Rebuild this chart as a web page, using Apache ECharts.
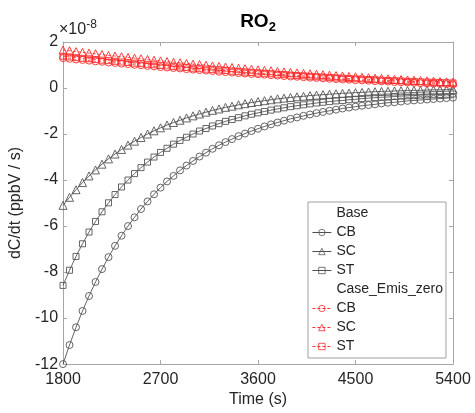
<!DOCTYPE html>
<html>
<head>
<meta charset="utf-8">
<script src="https://cdn.jsdelivr.net/npm/echarts@6/dist/echarts.min.js"></script>
<style>html,body{margin:0;padding:0;background:#fff;}#c{width:475px;height:413px;}</style>
</head>
<body>
<div id="c"></div>
<script>
// values in units of 1e-8 ppbV/s
const time = [1800,1860,1920,1980,2040,2100,2160,2220,2280,2340,2400,2460,2520,2580,2640,2700,2760,2820,2880,2940,3000,3060,3120,3180,3240,3300,3360,3420,3480,3540,3600,3660,3720,3780,3840,3900,3960,4020,4080,4140,4200,4260,4320,4380,4440,4500,4560,4620,4680,4740,4800,4860,4920,4980,5040,5100,5160,5220,5280,5340,5400];
const baseCB = [-12.00,-11.17,-10.40,-9.69,-9.04,-8.43,-7.87,-7.35,-6.86,-6.42,-6.00,-5.62,-5.26,-4.93,-4.62,-4.33,-4.06,-3.82,-3.58,-3.37,-3.17,-2.98,-2.81,-2.64,-2.49,-2.35,-2.22,-2.09,-1.98,-1.87,-1.77,-1.67,-1.58,-1.50,-1.42,-1.34,-1.28,-1.21,-1.15,-1.09,-1.04,-0.99,-0.94,-0.89,-0.85,-0.81,-0.77,-0.74,-0.71,-0.67,-0.64,-0.62,-0.59,-0.56,-0.54,-0.52,-0.50,-0.48,-0.46,-0.44,-0.42];
const baseSC = [-5.10,-4.75,-4.42,-4.11,-3.82,-3.56,-3.31,-3.08,-2.87,-2.67,-2.48,-2.31,-2.15,-2.00,-1.86,-1.73,-1.61,-1.50,-1.40,-1.30,-1.21,-1.13,-1.05,-0.97,-0.91,-0.84,-0.79,-0.73,-0.68,-0.63,-0.59,-0.55,-0.51,-0.47,-0.44,-0.41,-0.38,-0.36,-0.33,-0.31,-0.29,-0.27,-0.25,-0.23,-0.22,-0.20,-0.19,-0.17,-0.16,-0.15,-0.14,-0.13,-0.12,-0.11,-0.10,-0.10,-0.09,-0.08,-0.08,-0.07,-0.07];
const baseST = [-8.58,-7.92,-7.32,-6.77,-6.26,-5.80,-5.38,-4.99,-4.63,-4.30,-4.00,-3.72,-3.46,-3.22,-3.00,-2.80,-2.62,-2.44,-2.28,-2.14,-2.00,-1.87,-1.76,-1.65,-1.55,-1.45,-1.37,-1.29,-1.21,-1.14,-1.08,-1.02,-0.96,-0.91,-0.86,-0.81,-0.77,-0.73,-0.69,-0.65,-0.62,-0.59,-0.56,-0.54,-0.51,-0.49,-0.46,-0.44,-0.42,-0.40,-0.39,-0.37,-0.35,-0.34,-0.33,-0.31,-0.30,-0.29,-0.28,-0.27,-0.26];
const caseCB = [1.30,1.27,1.24,1.22,1.19,1.16,1.14,1.11,1.09,1.06,1.04,1.01,0.99,0.96,0.94,0.91,0.89,0.87,0.85,0.82,0.80,0.78,0.76,0.74,0.71,0.69,0.67,0.65,0.63,0.61,0.60,0.58,0.56,0.54,0.52,0.50,0.49,0.47,0.45,0.44,0.42,0.40,0.39,0.37,0.36,0.34,0.33,0.32,0.30,0.29,0.28,0.26,0.25,0.24,0.23,0.21,0.20,0.19,0.18,0.17,0.16];
const caseSC = [1.65,1.62,1.58,1.55,1.52,1.49,1.45,1.42,1.39,1.36,1.33,1.30,1.27,1.24,1.21,1.18,1.15,1.12,1.10,1.07,1.04,1.02,0.99,0.96,0.94,0.91,0.89,0.86,0.84,0.82,0.79,0.77,0.75,0.72,0.70,0.68,0.66,0.64,0.62,0.60,0.58,0.56,0.54,0.52,0.50,0.49,0.47,0.45,0.43,0.42,0.40,0.38,0.37,0.35,0.34,0.33,0.31,0.30,0.28,0.27,0.26];
const caseST = [1.38,1.35,1.32,1.29,1.27,1.24,1.21,1.19,1.16,1.13,1.11,1.08,1.06,1.03,1.01,0.98,0.96,0.93,0.91,0.89,0.86,0.84,0.82,0.80,0.78,0.76,0.73,0.71,0.69,0.67,0.65,0.64,0.62,0.60,0.58,0.56,0.54,0.53,0.51,0.49,0.48,0.46,0.44,0.43,0.41,0.40,0.39,0.37,0.36,0.34,0.33,0.32,0.31,0.29,0.28,0.27,0.26,0.25,0.24,0.23,0.22];
const xTicks = [1800, 5400, 900];
const yTicks = [-12, 2, 2];

const FONT = '"Liberation Sans", Arial, Helvetica, sans-serif';
const AX = '#a6a6a6';
const TXT = '#262626';
const zip = v => time.map((t, i) => [t, v[i]]);

function mk(name, values, symbol, size, stroke, lineColor, dashed) {
  return {
    name, type: 'line', data: zip(values), symbol, symbolSize: size, clip: false,
    itemStyle: { color: 'transparent', borderColor: stroke, borderWidth: 0.9 },
    lineStyle: { color: lineColor, width: 0.7, type: dashed ? [3, 2] : 'solid' },
    emphasis: { disabled: true }, animation: false, z: dashed ? 3 : 2
  };
}
const blkM = '#555', blkL = '#222', redM = '#ff2a2a', redL = '#ff0000';
const axisBase = (pos, showLabel) => ({
  type: 'value', position: pos, splitLine: { show: false },
  axisLine: { show: true, onZero: false, lineStyle: { color: AX, width: 1 } },
  axisTick: { show: true, inside: true, length: 4, lineStyle: { color: AX } },
  axisLabel: { show: showLabel, color: TXT, fontSize: 16, fontFamily: FONT }
});

const chart = echarts.init(document.getElementById('c'), null, { renderer: 'canvas' });
chart.setOption({
  animation: false,
  backgroundColor: '#fff',
  grid: { left: 58, right: 22, top: 42, bottom: 48, containLabel: false },
  title: {
    text: '{a|×10}{b|-8}', left: 59, top: 19, padding: 0,
    textStyle: { fontWeight: 'normal', rich: {
      a: { fontSize: 16, fontWeight: 'normal', color: TXT, fontFamily: FONT },
      b: { fontSize: 12, fontWeight: 'normal', color: TXT, fontFamily: FONT, padding: [0, 0, 9, 0] }
    } }
  },
  xAxis: [
    Object.assign(axisBase('bottom', true), {
      min: xTicks[0], max: xTicks[1], interval: xTicks[2],
      name: 'Time (s)', nameLocation: 'middle', nameGap: 27,
      nameTextStyle: { color: TXT, fontSize: 16, fontFamily: FONT },
      axisLabel: { show: true, color: TXT, fontSize: 16, fontFamily: FONT, margin: 7, formatter: v => String(v) }
    }),
    Object.assign(axisBase('top', false), {
      min: xTicks[0], max: xTicks[1], interval: xTicks[2],
      name: '{n|RO}{s|2}', nameLocation: 'middle', nameGap: 8,
      nameTextStyle: { rich: {
        n: { fontSize: 19, fontWeight: 'bold', color: '#000', fontFamily: FONT },
        s: { fontSize: 13, fontWeight: 'bold', color: '#000', fontFamily: FONT, padding: [11, 0, 0, 0] }
      } }
    })
  ],
  yAxis: [
    Object.assign(axisBase('left', true), {
      min: yTicks[0], max: yTicks[1], interval: yTicks[2],
      name: 'dC/dt (ppbV / s)', nameLocation: 'middle', nameGap: 32,
      nameTextStyle: { color: TXT, fontSize: 16, fontFamily: FONT },
      axisLabel: { show: true, color: TXT, fontSize: 16, fontFamily: FONT, margin: 5 }
    }),
    Object.assign(axisBase('right', false), { min: yTicks[0], max: yTicks[1], interval: yTicks[2] })
  ],
  legend: {
    orient: 'vertical', left: 308, top: 202,
    padding: [2, 3, 2, 4], itemGap: 0, itemWidth: 19, itemHeight: 8,
    backgroundColor: '#fff', borderColor: '#a0a0a0', borderWidth: 1, borderRadius: 0,
    selectedMode: false,
    itemStyle: { borderWidth: 0.8 },
    lineStyle: { width: 0.8 },
    textStyle: { color: TXT, fontSize: 14, fontFamily: FONT, lineHeight: 19 },
    formatter: n => (n.indexOf(' ') >= 0 ? n.split(' ')[1] : n),
    data: [
      { name: 'Base', icon: 'none' }, 'Base CB', 'Base SC', 'Base ST',
      { name: 'Case_Emis_zero', icon: 'none' }, 'Case_Emis_zero CB', 'Case_Emis_zero SC', 'Case_Emis_zero ST'
    ]
  },
  series: [
    { name: 'Base', type: 'line', data: [], symbol: 'none', lineStyle: { opacity: 0 } },
    mk('Base CB', baseCB, 'circle', 7, blkM, blkL, false),
    mk('Base SC', baseSC, 'triangle', 8, blkM, blkL, false),
    mk('Base ST', baseST, 'rect', 6, blkM, blkL, false),
    { name: 'Case_Emis_zero', type: 'line', data: [], symbol: 'none', lineStyle: { opacity: 0 } },
    mk('Case_Emis_zero CB', caseCB, 'circle', 7, redM, redL, true),
    mk('Case_Emis_zero SC', caseSC, 'triangle', 8, redM, redL, true),
    mk('Case_Emis_zero ST', caseST, 'rect', 6, redM, redL, true)
  ]
});
</script>
</body>
</html>
